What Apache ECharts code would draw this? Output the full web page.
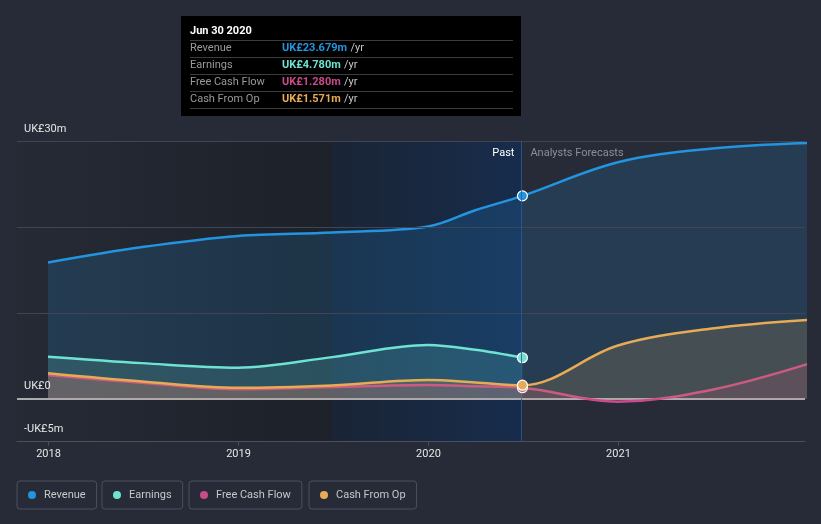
<!DOCTYPE html>
<html>
<head>
<meta charset="utf-8">
<script src="https://cdn.jsdelivr.net/npm/echarts@6/dist/echarts.min.js"></script>
<style>
html,body{margin:0;padding:0;background:#262b37;}
#c{width:821px;height:524px;}
</style>
</head>
<body>
<div id="c"></div>
<script>
// ---- data ----
const pastDates = ['2017-12-31','2018-06-30','2018-12-31','2019-06-30','2019-12-31','2020-03-31','2020-06-30'];
const forecastDates = ['2020-12-31','2021-06-30','2021-12-31'];
const revenuePast = [15.9, 17.7, 19.0, 19.4, 20.1, 22.0, 23.679];
const revenueForecast = [27.6, 29.2, 29.85];
const earningsPast = [4.9, 4.15, 3.62, 4.85, 6.27, 5.7, 4.78];
const fcfPast = [2.75, 1.85, 1.1, 1.35, 1.6, 1.45, 1.28];
const fcfForecast = [-0.35, 1.05, 4.05];
const cfoPast = [2.96, 2.0, 1.28, 1.55, 2.18, 1.9, 1.571];
const cfoForecast = [6.2, 8.2, 9.2];
const seriesNames = ['Revenue','Earnings','Free Cash Flow','Cash From Op'];
const xTickYears = [2018, 2019, 2020, 2021];
const yTickValues = [-5, 0, 30];
const yTickLabels = ['-UK£5m', 'UK£0', 'UK£30m'];
const gridValues = [10, 20, 30];
const tooltipTitle = 'Jun 30 2020';
const highlightStart = '2019-06-30';

// ---- styles ----
const colors = ['#2394df', '#6ee3d1', '#c84b8b', '#e8ab55'];
const FONT = 'Roboto';
const X_MIN = 2017.834, X_MAX = 2021.982;

function yr(d){
  const t = Date.UTC(+d.slice(0,4), +d.slice(5,7)-1, +d.slice(8,10));
  const y = +d.slice(0,4);
  const s = Date.UTC(y,0,1), e = Date.UTC(y+1,0,1);
  return y + (t - s) / (e - s);
}

function pts(past, fc, color){
  const arr = past.map((v,i)=>({value:[yr(pastDates[i]), v]}));
  const last = arr[arr.length-1];
  last.symbol = 'circle';
  last.symbolSize = 10;
  last.itemStyle = {color: color, borderColor: '#ffffff', borderWidth: 1.2};
  if (fc) fc.forEach((v,i)=>arr.push({value:[yr(forecastDates[i]), v]}));
  return arr;
}

const seriesData = [
  pts(revenuePast, revenueForecast, colors[0]),
  pts(earningsPast, null, colors[1]),
  pts(fcfPast, fcfForecast, colors[2]),
  pts(cfoPast, cfoForecast, colors[3])
];

const chart = echarts.init(document.getElementById('c'));
const splitX = yr(pastDates[pastDates.length-1]);

const series = [];
series.push({
  type: 'line', data: [], silent: true, z: 0,
  markArea: {
    silent: true,
    data: [
      [{xAxis: X_MIN, itemStyle: {color: {type:'linear', x:0,y:0,x2:1,y2:0, colorStops:[{offset:0,color:'rgba(37,42,53,1)'},{offset:1,color:'rgba(29,33,41,1)'}]}}}, {xAxis: yr(highlightStart)}],
      [{xAxis: yr(highlightStart), itemStyle: {color: {type:'linear', x:0,y:0,x2:1,y2:0, colorStops:[{offset:0,color:'rgba(26,36,53,1)'},{offset:1,color:'rgba(23,44,76,1)'}]}}}, {xAxis: splitX}]
    ]
  },
  markLine: {
    silent: true, symbol: 'none', label: {show: false},
    lineStyle: {color: '#3f4552', width: 1, type: 'solid'},
    data: gridValues.map(v => ({yAxis: v}))
  }
});

seriesNames.forEach((n, i) => {
  series.push({
    name: n, type: 'line', data: seriesData[i], smooth: 0.35,
    symbol: 'none', z: 3 + i,
    lineStyle: {color: colors[i], width: 2.5},
    itemStyle: {color: colors[i]},
    areaStyle: {color: colors[i], opacity: 0.17},
    emphasis: {disabled: true}
  });
});

series.push({
  type: 'line', data: [], silent: true, z: 10,
  markLine: {
    silent: true, symbol: 'none', label: {show: false},
    data: [
      {yAxis: 0, lineStyle: {color: '#d9d9d9', width: 1.5, type: 'solid'}},
      {xAxis: splitX, lineStyle: {color: 'rgba(50,90,140,0.8)', width: 1, type: 'solid'}}
    ]
  }
});

const legends = seriesNames.map((n, i) => ({
  data: [n],
  left: [17, 102, 189, 309][i],
  top: 481,
  orient: 'horizontal',
  icon: 'circle',
  itemWidth: 8, itemHeight: 8,
  padding: [7, 11, 7, 11],
  borderColor: '#4b505c', borderWidth: 1, borderRadius: 3,
  selectedMode: false,
  textStyle: {color: '#c8c8c8', fontSize: 11, fontFamily: FONT, padding: [0,0,0,3], lineHeight: 14}
}));

chart.setOption({
  backgroundColor: '#262b37',
  animation: false,
  grid: {left: 17, right: 16, top: 141.7, bottom: 82.5, containLabel: false},
  legend: legends,
  xAxis: {
    type: 'value', min: X_MIN, max: X_MAX, z: 20,
    axisLine: {show: true, onZero: false, lineStyle: {color: '#4a505c', width: 1}},
    axisTick: {show: true, customValues: xTickYears, length: 4, lineStyle: {color: '#4a505c'}},
    axisLabel: {customValues: xTickYears, color: '#e6e6e6', fontSize: 11, fontFamily: FONT, margin: 7, formatter: v => String(Math.round(v))},
    splitLine: {show: false}
  },
  yAxis: {
    type: 'value', min: -5, max: 30, interval: 5, z: 50,
    axisLine: {show: false}, axisTick: {show: false},
    splitLine: {show: false},
    axisLabel: {
      inside: true, margin: 7, showMinLabel: true, showMaxLabel: true,
      verticalAlign: 'bottom', padding: [0, 0, 7, 0],
      color: '#e6e6e6', fontSize: 11, fontFamily: FONT,
      formatter: v => { const k = yTickValues.indexOf(Math.round(v)); return k >= 0 ? yTickLabels[k] : ''; }
    }
  },
  series: series
});

const sx = chart.convertToPixel({xAxisIndex: 0}, splitX);
const topY = chart.convertToPixel({yAxisIndex: 0}, 30);
const lastVals = [revenuePast, earningsPast, fcfPast, cfoPast].map(a => a[a.length-1]);
const tipW = 340, tipX = Math.round(sx) - 1 - tipW, tipY = 16;
const rowY = [48, 65, 82, 99];
const sepY = [40.5, 57.5, 74.5, 91.5, 108.5];
const g = [
  {type: 'text', x: sx - 8, y: topY + 12, style: {text: 'Past', fill: '#ffffff', font: '11px ' + FONT, align: 'right', verticalAlign: 'middle'}, z: 20},
  {type: 'text', x: sx + 8, y: topY + 12, style: {text: 'Analysts Forecasts', fill: '#8a8f99', font: '11px ' + FONT, align: 'left', verticalAlign: 'middle'}, z: 20},
  {type: 'rect', shape: {x: tipX, y: tipY, width: tipW, height: 100}, style: {fill: '#000000'}, z: 30},
  {type: 'text', x: tipX + 9, y: 31, style: {text: tooltipTitle, fill: '#ffffff', font: 'bold 11px ' + FONT, verticalAlign: 'middle'}, z: 31}
];
sepY.forEach(y => g.push({type: 'line', shape: {x1: tipX + 9, y1: y, x2: tipX + tipW - 8, y2: y}, style: {stroke: '#3c3c3c', lineWidth: 1}, z: 31}));
seriesNames.forEach((n, i) => {
  g.push({type: 'text', x: tipX + 9, y: rowY[i], style: {text: n, fill: '#9a9a9a', font: '11px ' + FONT, verticalAlign: 'middle'}, z: 31});
  g.push({type: 'text', x: tipX + 101, y: rowY[i], style: {
    text: '{v|UK£' + lastVals[i].toFixed(3) + 'm} {u|/yr}', verticalAlign: 'middle',
    rich: {v: {fill: colors[i], fontWeight: 'bold', fontSize: 11, fontFamily: FONT, color: colors[i]},
           u: {fill: '#c8c8c8', color: '#c8c8c8', fontSize: 11, fontFamily: FONT}}
  }, z: 31});
});
chart.setOption({graphic: g});
</script>
</body>
</html>
